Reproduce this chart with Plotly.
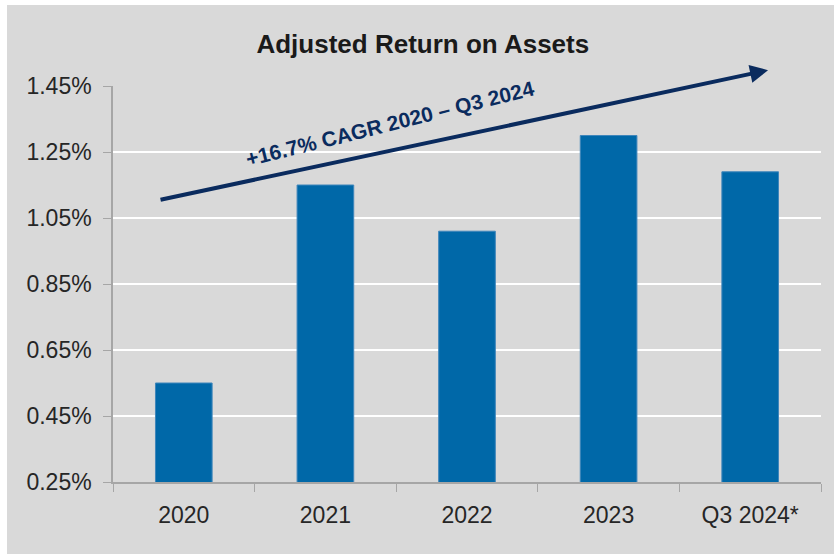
import plotly.graph_objects as go

CATEGORIES = ["2020", "2021", "2022", "2023", "Q3 2024*"]
ROA = [0.55, 1.15, 1.01, 1.30, 1.19]
TICK_VALUES = [0.25, 0.45, 0.65, 0.85, 1.05, 1.25, 1.45]
TICK_LABELS = ["0.25%", "0.45%", "0.65%", "0.85%", "1.05%", "1.25%", "1.45%"]

BAR_COLOR = "#0068a8"
NAVY = "#0a2b5e"
BG = "#d9d9d9"
FONT = "Liberation Sans, Arial, sans-serif"

fig = go.Figure(
    go.Bar(
        x=CATEGORIES,
        y=ROA,
        width=0.4,
        marker=dict(color=BAR_COLOR, line=dict(color="#3f86bb", width=1)),
        hoverinfo="skip",
    )
)

# thin white strips on the top and left edges
fig.add_shape(
    type="rect", xref="paper", yref="paper",
    x0=-0.2, x1=-0.1497, y0=-0.3, y1=1.3,
    fillcolor="white", line=dict(width=0), layer="below",
)
fig.add_shape(
    type="rect", xref="paper", yref="paper",
    x0=-0.2, x1=1.1, y0=1.2045, y1=1.3,
    fillcolor="white", line=dict(width=0), layer="below",
)

# growth arrow
fig.add_annotation(
    x=4.126, y=1.498, ax=-0.175, ay=1.1045,
    xref="x", yref="y", axref="x", ayref="y",
    text="", showarrow=True, arrowhead=2, arrowsize=0.9,
    arrowwidth=4, arrowcolor=NAVY,
)
fig.add_annotation(
    x=1.456, y=1.335, xref="x", yref="y",
    text="<b>+16.7% CAGR 2020 – Q3 2024</b>", showarrow=False,
    textangle=-14, font=dict(family=FONT, size=21, color=NAVY),
)

fig.update_layout(
    width=834, height=554,
    margin=dict(l=113, r=13, t=86, b=72),
    paper_bgcolor=BG, plot_bgcolor=BG,
    title=dict(
        text="<b>Adjusted Return on Assets</b>", x=0.507, xanchor="center",
        y=0.92, yanchor="middle",
        font=dict(family=FONT, size=26, color="#1a1a1a"),
    ),
    font=dict(family=FONT, size=23, color="#262626"),
    showlegend=False,
    bargap=0.6,
)
fig.update_xaxes(
    showline=True, linecolor="#a6a6a6", linewidth=1.5,
    ticks="outside", tickson="boundaries", ticklen=8, tickcolor="#a6a6a6",
    showgrid=False, tickfont=dict(size=23), ticklabelstandoff=12,
    fixedrange=True,
)
fig.update_yaxes(
    range=[0.25, 1.45], tickvals=TICK_VALUES, ticktext=TICK_LABELS,
    showline=True, linecolor="#a6a6a6", linewidth=1.5,
    ticks="outside", ticklen=8, tickcolor="#a6a6a6",
    showgrid=True, gridcolor="white", gridwidth=2, zeroline=False,
    tickfont=dict(size=23), ticklabelstandoff=7, fixedrange=True,
)

fig.write_html(
    "out.html",
    config={"displayModeBar": False},
    post_script="document.body.style.margin='0';",
)
